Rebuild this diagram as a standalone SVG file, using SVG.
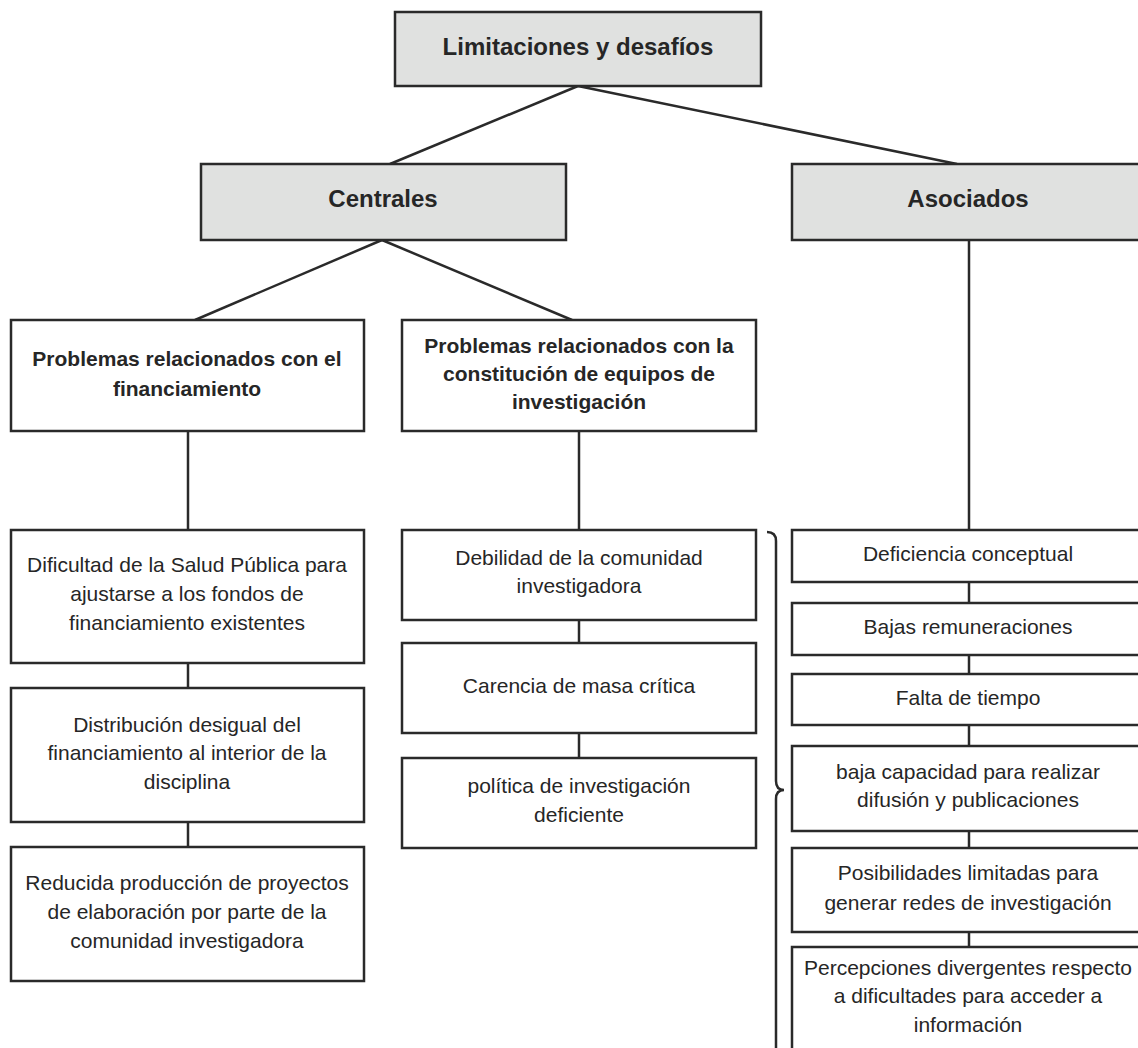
<svg xmlns="http://www.w3.org/2000/svg" width="1138" height="1048" viewBox="0 0 1138 1048">
<style>
.box{fill:#ffffff;stroke:#2a2a2a;stroke-width:2.5}
.head{fill:#e0e1e0;stroke:#2a2a2a;stroke-width:2.5}
.ln{fill:none;stroke:#2a2a2a;stroke-width:2.5}
text{font-family:"Liberation Sans",Arial,Helvetica,sans-serif;fill:#262626;text-anchor:middle}
.b24{font-size:24px;font-weight:bold}
.b21{font-size:21px;font-weight:bold}
.r21{font-size:21px}
</style>
<rect width="1138" height="1048" fill="#ffffff"/>
<g id="connectors">
<line class="ln" x1="578" y1="86" x2="390" y2="164"/>
<line class="ln" x1="578" y1="86" x2="957" y2="164"/>
<line class="ln" x1="382" y1="240" x2="195" y2="320"/>
<line class="ln" x1="382" y1="240" x2="572" y2="320"/>
<line class="ln" x1="969" y1="240" x2="969" y2="530"/>
<line class="ln" x1="188" y1="431" x2="188" y2="530"/>
<line class="ln" x1="188" y1="663" x2="188" y2="688"/>
<line class="ln" x1="188" y1="822" x2="188" y2="847"/>
<line class="ln" x1="579" y1="431" x2="579" y2="530"/>
<line class="ln" x1="579" y1="620" x2="579" y2="643"/>
<line class="ln" x1="579" y1="733" x2="579" y2="758"/>
<line class="ln" x1="969" y1="582" x2="969" y2="603"/>
<line class="ln" x1="969" y1="655" x2="969" y2="674"/>
<line class="ln" x1="969" y1="725" x2="969" y2="746"/>
<line class="ln" x1="969" y1="831" x2="969" y2="848"/>
<line class="ln" x1="969" y1="932" x2="969" y2="947"/>
</g>
<g id="brace">
<path class="ln" d="M767,532 Q776,532 776,541 L776,781 Q776,790 784,790 Q776,790 776,799 L776,1052"/>
</g>
<g id="n-top">
<rect class="head" x="395" y="12" width="366" height="74"/>
<text class="b24" x="578" y="55">Limitaciones y desafíos</text>
</g>
<g id="n-centrales">
<rect class="head" x="201" y="164" width="365" height="76"/>
<text class="b24" x="383" y="207">Centrales</text>
</g>
<g id="n-asociados">
<rect class="head" x="792" y="164" width="353" height="76"/>
<text class="b24" x="968" y="207">Asociados</text>
</g>
<g id="n-financ">
<rect class="box" x="11" y="320" width="353" height="111"/>
<text class="b21" x="187" y="366">Problemas relacionados con el</text>
<text class="b21" x="187" y="396">financiamiento</text>
</g>
<g id="n-equipos">
<rect class="box" x="402" y="320" width="354" height="111"/>
<text class="b21" x="579" y="353">Problemas relacionados con la</text>
<text class="b21" x="579" y="381">constitución de equipos de</text>
<text class="b21" x="579" y="409">investigación</text>
</g>
<g id="n-l1">
<rect class="box" x="11" y="530" width="353" height="133"/>
<text class="r21" x="187" y="572">Dificultad de la Salud Pública para</text>
<text class="r21" x="187" y="601">ajustarse a los fondos de</text>
<text class="r21" x="187" y="630">financiamiento existentes</text>
</g>
<g id="n-l2">
<rect class="box" x="11" y="688" width="353" height="134"/>
<text class="r21" x="187" y="732">Distribución desigual del</text>
<text class="r21" x="187" y="760">financiamiento al interior de la</text>
<text class="r21" x="187" y="789">disciplina</text>
</g>
<g id="n-l3">
<rect class="box" x="11" y="847" width="353" height="134"/>
<text class="r21" x="187" y="890">Reducida producción de proyectos</text>
<text class="r21" x="187" y="919">de elaboración por parte de la</text>
<text class="r21" x="187" y="948">comunidad investigadora</text>
</g>
<g id="n-m1">
<rect class="box" x="402" y="530" width="354" height="90"/>
<text class="r21" x="579" y="565">Debilidad de la comunidad</text>
<text class="r21" x="579" y="593">investigadora</text>
</g>
<g id="n-m2">
<rect class="box" x="402" y="643" width="354" height="90"/>
<text class="r21" x="579" y="693">Carencia de masa crítica</text>
</g>
<g id="n-m3">
<rect class="box" x="402" y="758" width="354" height="90"/>
<text class="r21" x="579" y="793">política de investigación</text>
<text class="r21" x="579" y="822">deficiente</text>
</g>
<g id="n-r1">
<rect class="box" x="792" y="530" width="353" height="52"/>
<text class="r21" x="968" y="561">Deficiencia conceptual</text>
</g>
<g id="n-r2">
<rect class="box" x="792" y="603" width="353" height="52"/>
<text class="r21" x="968" y="634">Bajas remuneraciones</text>
</g>
<g id="n-r3">
<rect class="box" x="792" y="674" width="353" height="51"/>
<text class="r21" x="968" y="705">Falta de tiempo</text>
</g>
<g id="n-r4">
<rect class="box" x="792" y="746" width="353" height="85"/>
<text class="r21" x="968" y="779">baja capacidad para realizar</text>
<text class="r21" x="968" y="807">difusión y publicaciones</text>
</g>
<g id="n-r5">
<rect class="box" x="792" y="848" width="353" height="84"/>
<text class="r21" x="968" y="880">Posibilidades limitadas para</text>
<text class="r21" x="968" y="910">generar redes de investigación</text>
</g>
<g id="n-r6">
<rect class="box" x="792" y="947" width="353" height="120"/>
<text class="r21" x="968" y="975">Percepciones divergentes respecto</text>
<text class="r21" x="968" y="1003">a dificultades para acceder a</text>
<text class="r21" x="968" y="1032">información</text>
</g>
</svg>
